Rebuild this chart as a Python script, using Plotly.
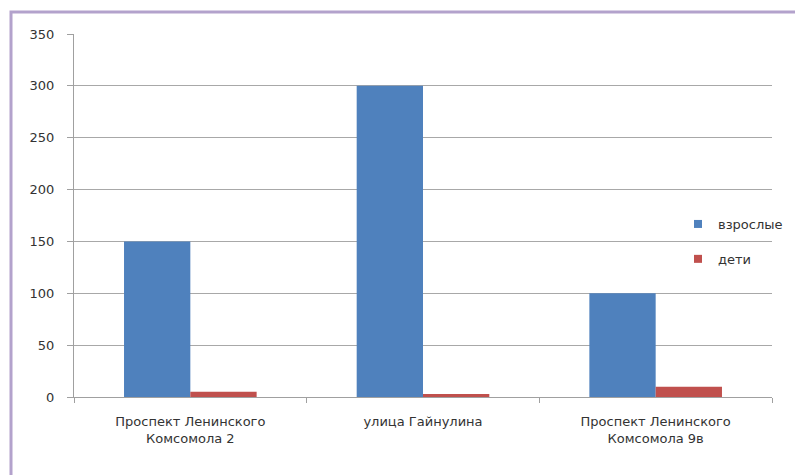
import plotly.graph_objects as go

categories = ["Проспект Ленинского<br>Комсомола 2", "улица Гайнулина", "Проспект Ленинского<br>Комсомола 9в"]
adults = [150, 300, 100]
children = [5, 3, 10]
y_ticks = [0, 50, 100, 150, 200, 250, 300, 350]
series_names = ["взрослые", "дети"]
series_colors = ["#4F81BD", "#C0504D"]

W, H = 795, 475
L, R, T, B = 74, 23, 34, 78
pw, ph = W - L - R, H - T - B

def px_x(x):
    return (x - L) / pw

def px_y(y):
    return (H - B - y) / ph

font = dict(family="DejaVu Sans, Liberation Sans, sans-serif", size=13, color="#333333")

fig = go.Figure()
for name, vals, color in zip(series_names, [adults, children], series_colors):
    fig.add_trace(go.Bar(x=categories, y=vals, name=name,
                         marker=dict(color=color, line=dict(width=0)),
                         showlegend=False))
    # small square legend key
    fig.add_trace(go.Scatter(x=[None], y=[None], mode="markers", name=name,
                             marker=dict(symbol="square", size=8, color=color),
                             legendgroup=name))

fig.update_layout(
    width=W, height=H,
    margin=dict(l=L, r=R, t=T, b=B, autoexpand=False),
    paper_bgcolor="white", plot_bgcolor="white",
    font=font,
    barmode="group", bargap=0.43, bargroupgap=0,
    legend=dict(x=px_x(678), y=px_y(209), xanchor="left", yanchor="top",
                bgcolor="rgba(0,0,0,0)", tracegroupgap=15, itemwidth=30,
                font=dict(size=13, color="#333333")),
    xaxis=dict(showline=True, linecolor="#A0A0A0", linewidth=1,
               ticks="outside", tickson="boundaries", ticklen=5, tickcolor="#A0A0A0",
               showgrid=False, tickfont=font, ticklabelstandoff=12),
    yaxis=dict(range=[0, 350], tickvals=y_ticks, showline=True, linecolor="#A0A0A0",
               linewidth=1, ticks="outside", ticklen=6, tickcolor="#A0A0A0",
               showgrid=True, gridcolor="#A8A8A8", gridwidth=1, zeroline=False,
               tickfont=font, ticklabelstandoff=10),
)

# purple frame around the chart
fig.add_shape(type="rect", xref="paper", yref="paper",
              x0=px_x(11), x1=px_x(W + 10), y0=px_y(H + 10), y1=px_y(12),
              line=dict(color="#B3A2CC", width=3), fillcolor="rgba(0,0,0,0)",
              layer="above")

fig.write_html("out.html")
